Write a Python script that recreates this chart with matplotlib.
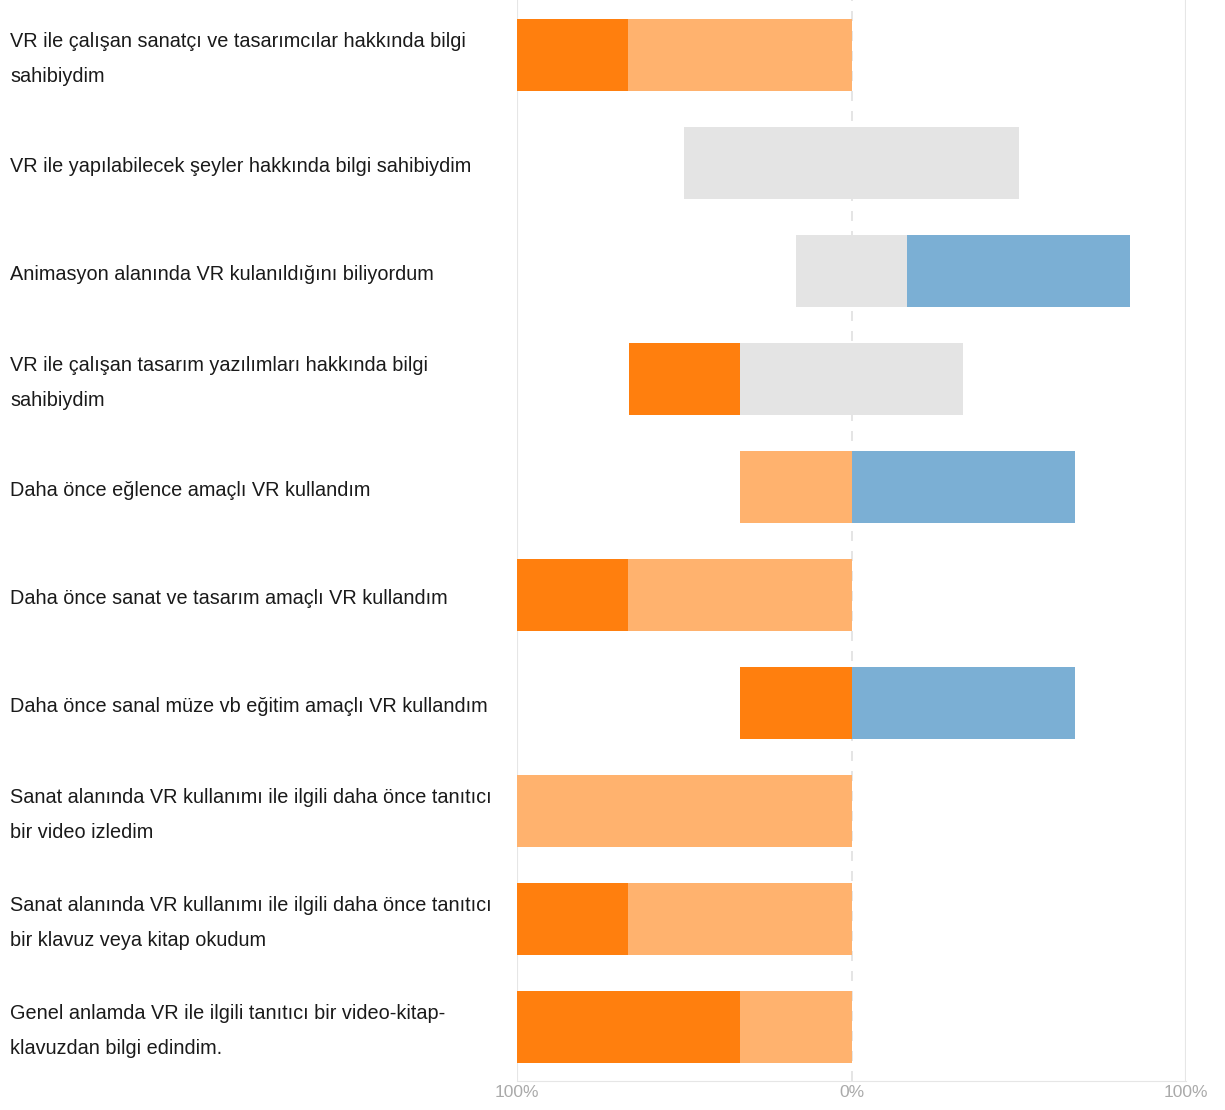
import numpy as np
import matplotlib.pyplot as plt
from matplotlib.transforms import blended_transform_factory

labels = [
    "VR ile çalışan sanatçı ve tasarımcılar hakkında bilgi\nsahibiydim",
    "VR ile yapılabilecek şeyler hakkında bilgi sahibiydim",
    "Animasyon alanında VR kulanıldığını biliyordum",
    "VR ile çalışan tasarım yazılımları hakkında bilgi\nsahibiydim",
    "Daha önce eğlence amaçlı VR kullandım",
    "Daha önce sanat ve tasarım amaçlı VR kullandım",
    "Daha önce sanal müze vb eğitim amaçlı VR kullandım",
    "Sanat alanında VR kullanımı ile ilgili daha önce tanıtıcı\nbir video izledim",
    "Sanat alanında VR kullanımı ile ilgili daha önce tanıtıcı\nbir klavuz veya kitap okudum",
    "Genel anlamda VR ile ilgili tanıtıcı bir video-kitap-\nklavuzdan bilgi edindim.",
]

# percent of responses per level
strongly_disagree = [33.3, 0, 0, 33.3, 0, 33.3, 33.3, 0, 33.3, 66.7]
disagree          = [66.7, 0, 0, 0, 33.3, 66.7, 0, 100, 66.7, 33.3]
neutral           = [0, 100, 33.3, 66.7, 0, 0, 0, 0, 0, 0]
agree             = [0, 0, 66.7, 0, 66.7, 0, 66.7, 0, 0, 0]
strongly_agree    = [0, 0, 0, 0, 0, 0, 0, 0, 0, 0]

colors = ["#FF7F0E", "#FFB26E", "#E4E4E4", "#7BAFD4", "#1F77B4"]
font = ["Liberation Sans", "DejaVu Sans"]

series = np.array([strongly_disagree, disagree, neutral, agree, strongly_agree])
start = -(series[0] + series[1] + series[2] / 2)

fig = plt.figure(figsize=(12.25, 11.1), dpi=100)
ax = fig.add_axes([517 / 1225, 29 / 1110, 669 / 1225, 1081 / 1110])

y = np.arange(len(labels))
left = start.copy()
for vals, c in zip(series, colors):
    ax.barh(y, vals, left=left, height=0.667, color=c, zorder=2)
    left = left + vals

ax.axvline(-100, color="#E6E6E6", lw=1.5, zorder=1)
ax.axvline(100, color="#E6E6E6", lw=1.5, zorder=1)
ax.axvline(0, color="#E0E0E0", lw=1.2, ls=(0, (6, 6)), zorder=1)

ax.set_xlim(-100, 100)
ax.set_ylim(9.5, -0.51)
ax.set_xticks([-100, 0, 100])
ax.set_xticklabels(["100%", "0%", "100%"], color="#AAAAAA", fontsize=12.5, family=font)
ax.set_yticks([])
ax.tick_params(axis="x", length=0, pad=3)

# category labels, left aligned at the figure edge
trans = blended_transform_factory(fig.transFigure, ax.transData)
for yi, lab in zip(y, labels):
    ax.text(10 / 1225, yi + 0.035, lab, transform=trans, ha="left", va="center",
            fontsize=14.3, linespacing=2.05, family=font, color="#1A1A1A")

for s in ["top", "right", "left"]:
    ax.spines[s].set_visible(False)
ax.spines["bottom"].set_color("#E6E6E6")

fig.savefig("out.png", dpi=100)
